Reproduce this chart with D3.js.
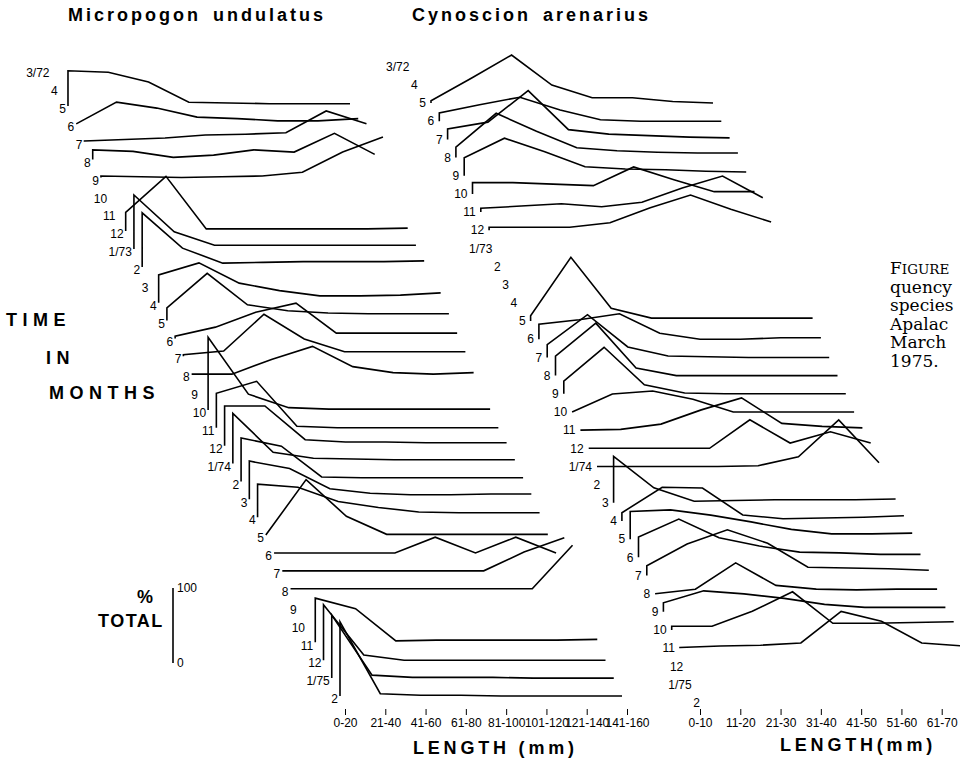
<!DOCTYPE html>
<html>
<head>
<meta charset="utf-8">
<script src="https://d3js.org/d3.v7.min.js"></script>
<style>
body { margin: 0; background: #fff; }
svg { display: block; }
</style>
</head>
<body>
<div id="chart"></div>
<script>
// one row per month, March 1972 to February 1975
const months = ["3/72", "4", "5", "6", "7", "8", "9", "10", "11", "12",
    "1/73", "2", "3", "4", "5", "6", "7", "8", "9", "10", "11", "12",
    "1/74", "2", "3", "4", "5", "6", "7", "8", "9", "10", "11", "12",
    "1/75", "2"];

const micropogonBins = ["0-20", "21-40", "41-60", "61-80", "81-100", "101-120", "121-140", "141-160"];
const cynoscionBins = ["0-10", "11-20", "21-30", "31-40", "41-50", "51-60", "61-70"];

// % of total in each length class, null = no line drawn that month
const micropogon = [
    null, null,
    [47, 45, 32, 5, 4, 3, 3, 3],
    [0, 29, 21, 9, 7, 4, 4, 7],
    [1, 3, 5, 9, 10, 12, 41, 24],
    [13, 11, 3, 6, 13, 10, 35, 7],
    [2, 1, 0, 1, 2, 7, 34, 54],
    null, null,
    [25, 73, 3, 3, 3, 3, 3, 4],
    [72, 23, 5, 5, 5, 5, 5, 5],
    [72, 25, 5, 6, 7, 7, 7, 8],
    null,
    [37, 53, 26, 16, 9, 9, 10, 13],
    [17, 63, 21, 13, 10, 9, 9, 9],
    [3, 15, 35, 47, 7, 7, 7, 7],
    [2, 7, 56, 23, 6, 6, 6, 6],
    [0, 0, 20, 37, 10, 2, 0, 2],
    null,
    [97, 21, 3, 1, 1, 1, 1, 1],
    [46, 62, 2, 0, 0, 0, 0, 0],
    [53, 53, 8, 5, 5, 4, 4, 4],
    [67, 15, 7, 6, 5, 5, 5, 5],
    [58, 47, 6, 5, 5, 5, 5, 5],
    [51, 41, 14, 8, 6, 6, 7, 7],
    [44, 40, 21, 13, 7, 6, 6, 6],
    [0, 74, 25, 1, 1, 1, 1, 1],
    [0, 0, 0, 0, 21, 0, 21, 0],
    [0, 0, 0, 0, 0, 0, 25, 44],
    [0, 0, 0, 0, 0, 0, 0, 58],
    null, null,
    [59, 45, 2, 3, 3, 3, 3, 4],
    [74, 7, 0, 0, 0, 0, 0, 0],
    [84, 4, 1, 1, 1, 0, 0, 0],
    [99, 3, 1, 1, 0, 0, 0, 0]
];

const cynoscion = [
    null, null,
    [3, 33, 64, 24, 7, 7, 2, 0],
    [11, 22, 32, 15, 2, 0, 0, 0],
    [14, 23, 65, 13, 7, 5, 3, 2],
    [14, 59, 35, 13, 9, 7, 6, 6],
    [24, 50, 32, 12, 9, 8, 6, 5],
    [15, 15, 13, 11, 36, 19, 3, 3],
    [5, 8, 11, 7, 13, 32, 48, 19],
    [4, 4, 4, 10, 30, 47, 28, 11],
    null, null, null, null,
    [7, 85, 17, 4, 4, 4, 4, 4],
    [20, 26, 34, 8, 0, 0, 2, 2],
    [17, 57, 14, 2, 1, 0, 0, 0],
    [26, 70, 10, 0, 0, 0, 0, 0],
    [17, 62, 12, 1, 0, 0, 0, 0],
    [0, 24, 28, 17, 0, 0, 0, 0],
    [0, 1, 8, 27, 43, 9, 5, 3],
    [0, 0, 0, 0, 38, 7, 22, 7],
    [0, 0, 0, 0, 1, 13, 62, 5],
    null,
    [62, 20, 2, 3, 4, 4, 4, 5],
    [11, 45, 44, 8, 3, 4, 5, 7],
    [37, 39, 32, 23, 13, 7, 7, 8],
    [27, 51, 26, 15, 7, 6, 4, 4],
    [13, 42, 61, 43, 11, 10, 9, 7],
    [0, 6, 41, 11, 6, 5, 6, 6],
    [12, 28, 24, 18, 10, 6, 6, 6],
    [5, 5, 25, 51, 9, 9, 10, 11],
    [1, 3, 4, 7, 49, 36, 7, 3],
    null, null, null
];

// caption as far as the picture shows it
const caption = ["quency", "species", "Apalac", "March", "1975."];

document.addEventListener("DOMContentLoaded", function() {
    const W = 960, H = 762;
    const sans = "'Liberation Sans', Arial, Helvetica, sans-serif";

    const svg = d3.select("#chart").append("svg")
        .attr("width", W)
        .attr("height", H)
        .style("font-family", sans);

    const pct = d3.scaleLinear().domain([0, 100]).range([0, 75]);  // % -> height in px
    const last = months.length - 1;

    const panels = [
        {
            data: micropogon, bins: micropogonBins, title: "Micropogon undulatus", titleX: 68,
            rowY: d3.scaleLinear().domain([0, last]).range([70.2, 696]),
            rowX: d3.scaleLinear().domain([0, last]).range([51.5, 340]),
            labelDx: -2, labelDy: 3,
            axisX0: 345, axisLabel: "LENGTH (mm)", axisLabelX: 413, axisLabelY: 754
        },
        {
            data: cynoscion, bins: cynoscionBins, title: "Cynoscion arenarius", titleX: 412,
            rowY: d3.scaleLinear().domain([0, last]).range([66.7, 702.7]),
            rowX: d3.scaleLinear().domain([0, last]).range([414.4, 704.9]),
            labelDx: -5, labelDy: 0,
            axisX0: 700, axisLabel: "LENGTH(mm)", axisLabelX: 780, axisLabelY: 751
        }
    ];

    const line = d3.line();

    panels.forEach(p => {
        const g = svg.append("g");
        const binX = d3.scaleLinear().domain([0, 7]).range([0, 282]);

        // species title
        svg.append("text")
            .attr("x", p.titleX)
            .attr("y", 21)
            .attr("font-size", 18)
            .attr("font-weight", "bold")
            .attr("letter-spacing", 3)
            .attr("word-spacing", 4)
            .text(p.title);

        // month labels
        g.selectAll(".month")
            .data(months)
            .enter().append("text")
            .attr("class", "month")
            .attr("x", (d, i) => p.rowX(i) + p.labelDx)
            .attr("y", (d, i) => p.rowY(i) + p.labelDy)
            .attr("dy", "0.35em")
            .attr("text-anchor", "end")
            .attr("font-size", 12)
            .attr("fill", "#000")
            .text(d => d);

        // one polyline per month, starting with the vertical from its baseline
        const rows = p.data.map((vals, i) => ({ vals, i })).filter(r => r.vals);
        g.selectAll(".row")
            .data(rows)
            .enter().append("path")
            .attr("class", "row")
            .attr("fill", "none")
            .attr("stroke", "#000")
            .attr("stroke-width", 1.6)
            .attr("d", r => {
                const x0 = p.rowX(r.i), y0 = p.rowY(r.i);
                const pts = [[x0, y0]].concat(r.vals.map((v, k) => [x0 + binX(k), y0 - pct(v)]));
                return line(pts);
            });

        // length axis under the last month
        const ax = d3.scaleLinear().domain([0, 7]).range([p.axisX0, p.axisX0 + 282]);
        const axisG = svg.append("g")
            .attr("transform", "translate(0,709)")
            .call(d3.axisBottom(ax)
                .tickValues(d3.range(p.bins.length))
                .tickFormat(k => p.bins[k])
                .tickSize(6)
                .tickPadding(3));
        axisG.select(".domain").remove();
        axisG.attr("font-family", sans).attr("font-size", 12);
        axisG.selectAll("line").attr("stroke", "#000").attr("stroke-width", 1);

        svg.append("text")
            .attr("x", p.axisLabelX)
            .attr("y", p.axisLabelY)
            .attr("font-size", 18)
            .attr("font-weight", "bold")
            .attr("letter-spacing", 3.8)
            .text(p.axisLabel);
    });

    // TIME IN MONTHS
    [["TIME", 6, 326], ["IN", 46, 364], ["MONTHS", 49, 399]].forEach(t => {
        svg.append("text")
            .attr("x", t[1])
            .attr("y", t[2])
            .attr("font-size", 18)
            .attr("font-weight", "bold")
            .attr("letter-spacing", 5.5)
            .text(t[0]);
    });

    // % TOTAL scale bar
    const barX = 173, barY0 = 663;
    svg.append("line")
        .attr("x1", barX).attr("x2", barX)
        .attr("y1", barY0).attr("y2", barY0 - pct(100))
        .attr("stroke", "#000").attr("stroke-width", 1.6);
    svg.append("text").attr("x", barX + 4).attr("y", barY0 - pct(100)).attr("dy", "0.35em")
        .attr("font-size", 12).text("100");
    svg.append("text").attr("x", barX + 4).attr("y", barY0).attr("dy", "0.35em")
        .attr("font-size", 12).text("0");
    svg.append("text").attr("x", 145).attr("y", 603).attr("text-anchor", "middle")
        .attr("font-size", 18).attr("font-weight", "bold").text("%");
    svg.append("text").attr("x", 98).attr("y", 627)
        .attr("font-size", 18).attr("font-weight", "bold").attr("letter-spacing", 1.5).text("TOTAL");

    // figure caption, cut off at the right edge in the original
    const cap = svg.append("g")
        .attr("font-family", "'DejaVu Serif', 'Liberation Serif', serif")
        .attr("font-size", 17);
    const fig = cap.append("text").attr("x", 890).attr("y", 274);
    fig.append("tspan").text("F");
    fig.append("tspan").attr("font-size", 13.5).text("IGURE");
    cap.selectAll(".cap")
        .data(caption)
        .enter().append("text")
        .attr("class", "cap")
        .attr("x", 890)
        .attr("y", (d, j) => 274 + 18.6 * (j + 1))
        .text(d => d);
});
</script>
</body>
</html>
